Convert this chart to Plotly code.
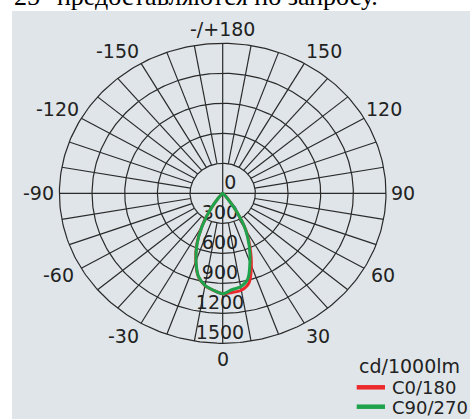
import numpy as np
import plotly.graph_objects as go

# ---------------- data ----------------
GAMMA = [0, 5, 10, 15, 20, 25, 30, 35, 40, 45, 50]            # gamma angle, degrees
C0_RIGHT = [1005, 995, 985, 930, 770, 590, 425, 222, 80, 25, 0]   # cd/1000lm
C180_LEFT = [1005, 975, 938, 864, 723, 563, 382, 198, 66, 16, 0]
C90_RIGHT = [1005, 968, 950, 888, 732, 575, 420, 220, 65, 18, 0]
C270_LEFT = [1005, 973, 935, 860, 717, 557, 377, 195, 65, 15, 0]

RING_VALUES = [300, 600, 900, 1200, 1500]
RING_LABELS = ["300", "600", "900", "1200", "1500"]
CENTER_LABEL = "0"
ANGLE_TICKS = [0, 30, 60, 90, 120, 150, 180, -150, -120, -90, -60, -30]
ANGLE_LABELS = ["0", "30", "60", "90", "120", "150", "-/+180",
                "-150", "-120", "-90", "-60", "-30"]
SPOKE_STEP = 10
SERIES_NAMES = ["C0/180", "C90/270"]
UNIT_LABEL = "cd/1000lm"
HEADER_TEXT = "25° предоставляются по запросу."

# ---------------- layout constants ----------------
W, H = 470, 419
CX, CY = 222.7, 193.3          # pixel position of the pole
RX, RY = 163.3, 150.0          # pixel radius of the outer ring (x / y)
R_MAX = RING_VALUES[-1]
SX, SY = RX / R_MAX, RY / R_MAX
X_RANGE = [-CX / SX, (W - CX) / SX]
Y_RANGE = [-(H - CY) / SY, CY / SY]

GRID_COLOR = "#2a2a2a"
TEXT_COLOR = "#222222"
PANEL_COLOR = "#dfe5e9"
SERIES_COLORS = ["#ec2a2c", "#1ea24b"]
FONT = "DejaVu Sans"


def to_xy(theta_deg, r):
    th = np.radians(np.asarray(theta_deg, dtype=float))
    r = np.asarray(r, dtype=float)
    return r * np.sin(th), -r * np.cos(th)


def lobe(left, right):
    theta = [-g for g in reversed(GAMMA)] + GAMMA[1:]
    r = list(reversed(left)) + right[1:]
    return to_xy(theta, r)


fig = go.Figure()

# rings
t = np.linspace(0, 360, 361)
gx, gy = [], []
for rv in RING_VALUES:
    x, y = to_xy(t, np.full_like(t, rv))
    gx += list(x) + [None]
    gy += list(y) + [None]
# spokes
for a in range(0, 360, SPOKE_STEP):
    r0 = 0 if a % 90 == 0 else RING_VALUES[0]
    x, y = to_xy([a, a], [r0, R_MAX])
    gx += list(x) + [None]
    gy += list(y) + [None]
fig.add_trace(go.Scatter(x=gx, y=gy, mode="lines", hoverinfo="skip",
                         line=dict(color=GRID_COLOR, width=1.2), showlegend=False))

# ring labels (drawn under the curves)
lx = [-2.7 / SX] * len(RING_VALUES)
ly = [-v for v in RING_VALUES]
fig.add_trace(go.Scatter(x=lx, y=ly, mode="text", text=RING_LABELS,
                         textposition="top center", hoverinfo="skip",
                         textfont=dict(family=FONT, size=19, color=TEXT_COLOR),
                         showlegend=False))
fig.add_trace(go.Scatter(x=[1.5 / SX], y=[0], mode="text", text=[CENTER_LABEL],
                         textposition="top right", hoverinfo="skip",
                         textfont=dict(family=FONT, size=19, color=TEXT_COLOR),
                         showlegend=False))

# photometric curves
for name, (left, right), color in zip(SERIES_NAMES,
                                      [(C180_LEFT, C0_RIGHT), (C270_LEFT, C90_RIGHT)],
                                      SERIES_COLORS):
    x, y = lobe(left, right)
    fig.add_trace(go.Scatter(x=x, y=y, mode="lines", name=name,
                             line=dict(color=color, width=3, shape="spline", smoothing=0.8),
                             hoverinfo="skip", showlegend=False))

annotations = []
# angle labels
for a, lab in zip(ANGLE_TICKS, ANGLE_LABELS):
    s, c = np.sin(np.radians(a)), np.cos(np.radians(a))
    x, y = to_xy([a], [R_MAX])
    if s > 0.1:
        xa = "left"
    elif s < -0.1:
        xa = "right"
    else:
        xa = "center"
    if c > 0.1:
        ya = "top"
        ysh = 6.4 - 17.5 * (abs(c) - 0.5)
    elif c < -0.1:
        ya = "bottom"
        ysh = -4 + 10 * (abs(c) - 0.5)
    else:
        ya = "middle"
        ysh = 0
    if abs(s) > 0.8:
        gap = 5 if c > 0.1 else (3 if abs(c) <= 0.1 else 0)
    else:
        gap = 0
    xsh = np.sign(s) * gap
    annotations.append(dict(x=float(x[0]), y=float(y[0]), xref="x", yref="y", text=lab,
                            showarrow=False, xanchor=xa, yanchor=ya,
                            xshift=float(xsh), yshift=float(ysh),
                            font=dict(family=FONT, size=19, color=TEXT_COLOR)))

# unit label + manual legend
annotations.append(dict(x=357 / W, y=1 - 366 / H, xref="paper", yref="paper",
                        text=UNIT_LABEL, showarrow=False, xanchor="left", yanchor="middle",
                        font=dict(family=FONT, size=19, color=TEXT_COLOR)))
shapes = [dict(type="rect", xref="paper", yref="paper", x0=12 / W, x1=1,
               y0=0, y1=1 - 11 / H, fillcolor=PANEL_COLOR, line=dict(width=0),
               layer="below")]
for i, (name, color) in enumerate(zip(SERIES_NAMES, SERIES_COLORS)):
    yy = 387.3 + i * 19.4
    shapes.append(dict(type="line", xref="paper", yref="paper",
                       x0=356.7 / W, x1=385 / W, y0=1 - yy / H, y1=1 - yy / H,
                       line=dict(color=color, width=4.5)))
    annotations.append(dict(x=389.5 / W, y=1 - (yy + 0.5) / H, xref="paper", yref="paper",
                            text=name, showarrow=False, xanchor="left", yanchor="middle",
                            font=dict(family=FONT, size=18, color=TEXT_COLOR)))

# header text (cut by the top edge, as in the reference)
annotations.append(dict(x=12 / W, y=1 - 12.6 / H, xref="paper", yref="paper",
                        text=HEADER_TEXT, showarrow=False, xanchor="left", yanchor="bottom",
                        font=dict(family="Liberation Serif", size=26, color="#000000")))

fig.update_layout(
    width=W, height=H, margin=dict(l=0, r=0, t=0, b=0),
    paper_bgcolor="#ffffff", plot_bgcolor="rgba(0,0,0,0)",
    xaxis=dict(range=X_RANGE, visible=False, fixedrange=True, domain=[0, 1]),
    yaxis=dict(range=Y_RANGE, visible=False, fixedrange=True, domain=[0, 1]),
    showlegend=False, annotations=annotations, shapes=shapes,
)

fig.write_html("out.html", config={"displayModeBar": False, "staticPlot": True},
               post_script="document.body.style.margin='0';document.body.style.overflow='hidden';")
